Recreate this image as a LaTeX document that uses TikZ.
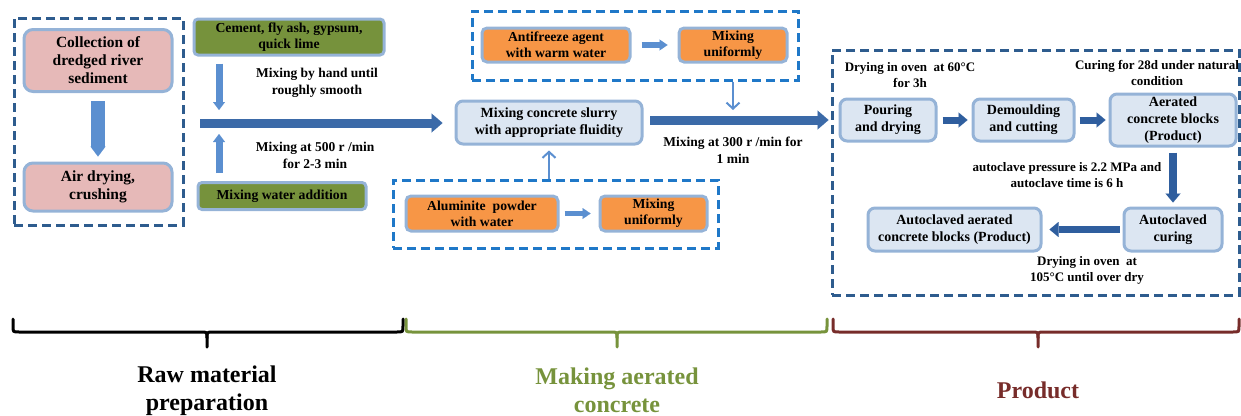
\documentclass[tikz,border=0pt]{standalone}
\usepackage{fontspec}
\setmainfont{Liberation Serif}
\usetikzlibrary{arrows.meta}
\definecolor{edgeblue}{HTML}{95B3D7}
\definecolor{lightfill}{HTML}{DCE6F2}
\definecolor{pinkfill}{HTML}{E6B9B8}
\definecolor{olivefill}{HTML}{76923C}
\definecolor{orangefill}{HTML}{F79646}
\definecolor{dashdark}{HTML}{2E5C8E}
\definecolor{dashbright}{HTML}{1F78C8}
\definecolor{arrowmain}{HTML}{3B6AA8}
\definecolor{arrowlight}{HTML}{5B8FD0}
\definecolor{arrowdark}{HTML}{2F5E9E}
\definecolor{greentext}{HTML}{77933C}
\definecolor{maroon}{HTML}{772C2A}
\newcommand{\mybrace}[4]{%
  \draw[bracestyle,#4] (#1,319) -- (#1,326) .. controls (#1,332) .. ({#1+6},332) -- ({#2-6},332)
    .. controls (#2,332) .. (#2,338) -- (#2,347);
  \draw[bracestyle,#4] (#2,338) .. controls (#2,332) .. ({#2+6},332) -- ({#3-6},332)
    .. controls (#3,332) .. (#3,326) -- (#3,319);}
\begin{document}
\begin{tikzpicture}[x=1pt,y=-1pt,
  lbbox/.style={draw=edgeblue, line width=3pt, fill=lightfill, rounded corners=7pt, align=center,
    font=\bfseries\fontsize{14pt}{17pt}\selectfont, inner sep=2pt},
  pinkbox/.style={lbbox, fill=pinkfill, rounded corners=9pt, font=\bfseries\fontsize{15.5pt}{18pt}\selectfont},
  greenbox/.style={lbbox, fill=olivefill, rounded corners=4pt, font=\bfseries\fontsize{13.7pt}{16pt}\selectfont},
  orangebox/.style={lbbox, fill=orangefill, rounded corners=5pt, font=\bfseries\fontsize{13.7pt}{16pt}\selectfont},
  note/.style={align=center, font=\bfseries\fontsize{13.5pt}{17pt}\selectfont},
  rnote/.style={align=center, font=\bfseries\fontsize{13pt}{16pt}\selectfont},
  bignote/.style={align=center, font=\bfseries\fontsize{24pt}{28pt}\selectfont},
  dbox/.style={draw=dashdark, line width=3pt, dash pattern=on 9pt off 5pt, inner sep=0pt},
  bigarrow/.style={draw=arrowmain, line width=9pt, -{Triangle[length=11pt,width=19pt,line width=0.01pt]}},
  pinkarrow/.style={draw=arrowlight, line width=14pt, -{Triangle[length=10pt,width=15pt,line width=0.01pt]}},
  midarrow/.style={draw=arrowlight, line width=7pt, -{Triangle[length=8pt,width=12pt,line width=0.01pt]}},
  smallarrow/.style={draw=arrowlight, line width=5.5pt, -{Triangle[length=8pt,width=11pt,line width=0.01pt]}},
  darkarrow/.style={draw=arrowdark, line width=7pt, -{Triangle[length=9pt,width=15pt,line width=0.01pt]}},
  thinarrow/.style={draw=arrowlight, line width=2pt, -{Straight Barb[length=6pt,width=13pt]}},
  bracestyle/.style={line width=3pt, line cap=round}
]
\useasboundingbox (0,0) rectangle (1241,415);

% dashed group boxes
\node[dbox, minimum width=169pt, minimum height=207pt] (L) at (98.5,121.5) {};
\node[dbox, draw=dashbright, minimum width=326pt, minimum height=69pt] (T) at (635,45.5) {};
\node[dbox, draw=dashbright, minimum width=325pt, minimum height=68pt] (B) at (555.5,214) {};
\node[dbox, minimum width=407pt, minimum height=245pt] (R) at (1035.5,172.5) {};

% raw material
\node[pinkbox, minimum width=148pt, minimum height=62pt] (p1) at (98,60.5) {Collection of\\dredged river\\sediment};
\node[pinkbox, minimum width=148pt, minimum height=48pt] (p2) at (98,187) {Air drying,\\crushing};
\draw[pinkarrow] ([yshift=-8pt]p1.south) -- ([yshift=5pt]p2.north);

\node[greenbox, minimum width=190pt, minimum height=36pt] (g1) at (289,37) {Cement, fly ash, gypsum,\\quick lime};
\node[greenbox, minimum width=168pt, minimum height=27pt] (g2) at (282,196) {Mixing water addition};
\coordinate (dTop) at (219,110);
\coordinate (uTop) at (219,134);
\coordinate (hstart) at (200,123);
\draw[midarrow] ([yshift=-7pt]g1.south -| dTop) -- (dTop);
\draw[midarrow] ([yshift=8pt]g2.north -| uTop) -- (uTop);
\node[note] (n1) at (317,83) {Mixing by hand until\\roughly smooth};
\node[note] (n2) at (315,155) {Mixing at 500 r /min\\for 2-3 min};

% making aerated concrete
\node[lbbox, minimum width=186pt, minimum height=43pt] (C) at (549,122.5) {Mixing concrete slurry\\with appropriate fluidity};
\draw[bigarrow, shorten >=12pt] (hstart) -- (hstart -| C.west);

\node[orangebox, minimum width=148pt, minimum height=34pt] (af) at (556,45) {Antifreeze agent\\with warm water};
\node[orangebox, minimum width=108pt, minimum height=34pt] (mu1) at (733,45) {Mixing\\uniformly};
\draw[smallarrow, shorten <=10pt, shorten >=10pt] (af) -- (mu1);

\node[orangebox, minimum width=152pt, minimum height=35pt] (al) at (482,213.5) {Aluminite\ \ powder\\with water};
\node[orangebox, minimum width=107pt, minimum height=35pt] (mu2) at (653.5,213.5) {Mixing\\uniformly};
\draw[smallarrow, shorten <=5pt, shorten >=8pt] (al) -- (mu2);

\coordinate (mixIn) at (733,110);
\draw[thinarrow] (T.south -| mixIn) -- (mixIn);
\draw[thinarrow] (B.north -| C.south) -- ([yshift=-5pt]C.south);

\coordinate (c2) at (643,120);
\draw[bigarrow, shorten <=7pt, shorten >=2pt] (c2) -- (c2 -| R.west);
\node[note] (n3) at (733,150) {Mixing at 300 r /min for\\1 min};

% product
\node[lbbox, minimum width=96pt, minimum height=42pt] (pour) at (888,120) {Pouring\\and drying};
\node[lbbox, minimum width=101pt, minimum height=42pt] (dem) at (1023.5,120) {Demoulding\\and cutting};
\node[lbbox, minimum width=126pt, minimum height=52pt] (aer) at (1173,120) {Aerated\\concrete blocks\\(Product)};
\node[lbbox, minimum width=98pt, minimum height=43pt] (acur) at (1173,229.5) {Autoclaved\\curing};
\node[lbbox, minimum width=173pt, minimum height=43pt] (aac) at (954.5,229.5) {Autoclaved aerated\\concrete blocks (Product)};
\draw[darkarrow, shorten <=5pt, shorten >=4pt] (pour) -- (dem);
\draw[darkarrow, shorten <=4pt, shorten >=3pt] (dem) -- (aer);
\draw[darkarrow, line width=8pt, shorten <=5pt, shorten >=4pt] (aer) -- (acur);
\draw[darkarrow, shorten <=3pt, shorten >=7pt] (acur) -- (aac);

\node[rnote] (n4) at (910,75) {Drying in oven\ \ at 60°C\\for 3h};
\node[rnote] (n5) at (1157,73) {Curing for 28d under natural\\condition};
\node[rnote] (n6) at (1067,175) {autoclave pressure is 2.2 MPa and\\autoclave time is 6 h};
\node[rnote] (n7) at (1087,270) {Drying in oven\ \ at\\105°C until over dry};

% bottom braces
\mybrace{13}{207}{403}{black}
\mybrace{406}{617}{827}{greentext}
\mybrace{833}{1038}{1239}{maroon}
\node[bignote] (lab1) at (207,391) {Raw material\\preparation};
\node[bignote, text=greentext] (lab2) at (617,390) {Making aerated\\concrete};
\node[bignote, text=maroon] (lab3) at (1038,390) {Product};
\end{tikzpicture}
\end{document}
